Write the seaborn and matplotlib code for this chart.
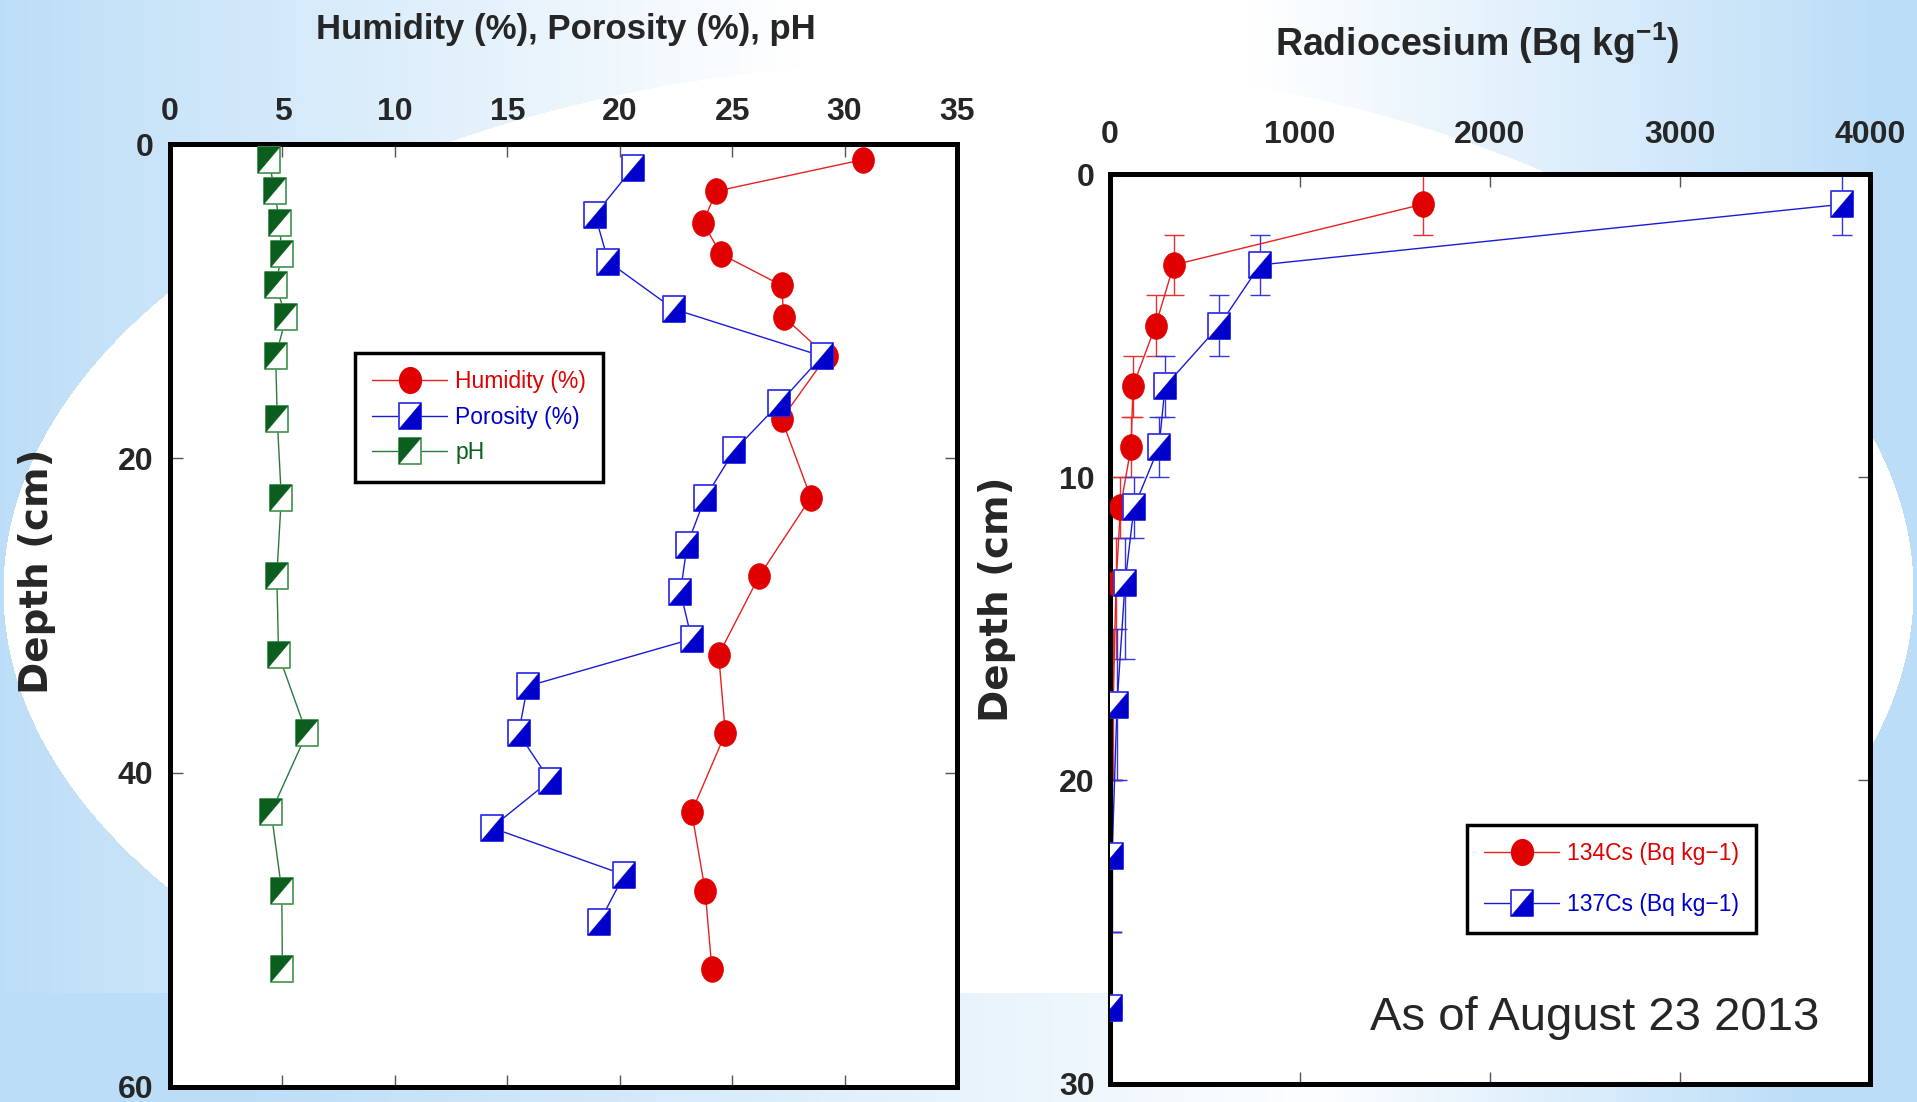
import numpy as np
import matplotlib
matplotlib.use("Agg")
import matplotlib.pyplot as plt
import seaborn as sns
from matplotlib.lines import Line2D
from matplotlib.legend_handler import HandlerTuple
from matplotlib.markers import MarkerStyle
from matplotlib.path import Path
from matplotlib import font_manager

# ---------------- data ----------------
depth_layers = [1, 3, 5, 7, 9, 11, 13.5, 17.5, 22.5, 27.5, 32.5, 37.5, 42.5, 47.5, 52.5]
humidity = [30.8, 24.3, 23.7, 24.5, 27.2, 27.3, 29.2, 27.2, 28.5, 26.2, 24.4, 24.7, 23.2, 23.8, 24.1]
ph = [4.4, 4.65, 4.87, 4.97, 4.7, 5.17, 4.7, 4.77, 4.95, 4.75, 4.83, 6.08, 4.5, 4.97, 5.0]
depth_porosity = [1.5, 4.5, 7.5, 10.5, 13.5, 16.5, 19.5, 22.5, 25.5, 28.5, 31.5, 34.5, 37.5, 40.5, 43.5, 46.5, 49.5]
porosity = [20.6, 18.9, 19.5, 22.4, 29.0, 27.1, 25.1, 23.8, 23.0, 22.7, 23.2, 15.9, 15.5, 16.9, 14.3, 20.2, 19.1]

depth_cs = [1, 3, 5, 7, 9, 11, 13.5, 17.5, 22.5, 27.5]
cs134 = [1645, 335, 240, 121, 111, 55, 32, 16, 5, 5]
cs137 = [3850, 790, 575, 290, 258, 126, 79, 37, 11, 5]
depth_err_top = [1, 1, 1, 1, 1, 1, 1.5, 2.5, 2.5, 2.5]
depth_err_bottom = [1, 1, 1, 1, 1, 1, 2.5, 2.5, 2.5, 2.5]

left_xticks = [0, 5, 10, 15, 20, 25, 30, 35]
left_yticks = [0, 20, 40, 60]
right_xticks = [0, 1000, 2000, 3000, 4000]
right_yticks = [0, 10, 20, 30]

left_labels = ['Humidity (%)', 'Porosity (%)', 'pH']
right_labels = ['134Cs (Bq kg\u22121)', '137Cs (Bq kg\u22121)']

# ---------------- style ----------------
sns.set_style("white")
plt.rcParams['font.family'] = ['Liberation Sans', 'DejaVu Sans']
plt.rcParams['mathtext.fontset'] = 'custom'
plt.rcParams['mathtext.rm'] = 'Liberation Sans'
plt.rcParams['mathtext.bf'] = 'Liberation Sans:bold'

avail = {f.name for f in font_manager.fontManager.ttflist}
if 'Liberation Sans Narrow' in avail:
    NARROW = ['Liberation Sans Narrow', 'Liberation Sans', 'DejaVu Sans']
    TICK_FS, LEG_FS = 27, 20
else:
    NARROW = ['Liberation Sans', 'DejaVu Sans']
    TICK_FS, LEG_FS = 23, 16.5

RED = '#E00000'
RED_LINE = '#E82020'
BLUE = '#0000CC'
BLUE_EDGE = '#3535E8'
BLUE_LINE = '#1A1AD8'
GREEN = '#0B5E1E'
GREEN_EDGE = '#4C9A5A'
GREEN_LINE = '#2A7A3A'

W, H = 1917, 1102
fig = plt.figure(figsize=(W / 100, H / 100), dpi=100)

# slide-like background
yy, xx = np.mgrid[0:H, 0:W]
wl = np.clip(1 - xx / 800.0, 0, 1)
wr = np.clip((xx - 1250) / 620.0, 0, 1)
w = np.maximum(wl, wr)
ell = ((xx - 958) / 955.0) ** 2 + ((yy - 590) / 530.0) ** 2 < 1
w = np.where(ell, 0.0, w)
wb = np.maximum(np.clip(1 - (xx - 250) / 1100.0, 0, 1), np.clip((xx - 1300) / 500.0, 0, 1))
w = np.where(yy > 992, wb, w)
blue_bg = np.array([0.74, 0.87, 0.97])
img = 1 - w[..., None] * (1 - blue_bg)
bg = fig.add_axes([0, 0, 1, 1], zorder=-10)
bg.imshow(img, aspect='auto', interpolation='bilinear')
bg.axis('off')

# marker shapes
hw = 0.82
rect = MarkerStyle(Path([(-hw, -1), (hw, -1), (hw, 1), (-hw, 1), (-hw, -1)], closed=True))
tri_lr = MarkerStyle(Path([(-hw, -1), (hw, -1), (hw, 1), (-hw, -1)], closed=True))
tri_ul = MarkerStyle(Path([(-hw, -1), (-hw, 1), (hw, 1), (-hw, -1)], closed=True))
th = np.linspace(0, 2 * np.pi, 48)
ellipse = MarkerStyle(Path(np.column_stack([0.85 * np.cos(th), np.sin(th)]), closed=True))
MS = 18.5


def split_square(ax, x, y, fill, edge, tri, z):
    sns.scatterplot(x=x, y=y, marker=rect, s=MS ** 2, color='white', edgecolor=edge,
                    linewidth=1.3, ax=ax, zorder=z, legend=False)
    sns.scatterplot(x=x, y=y, marker=tri, s=MS ** 2, color=fill, edgecolor=fill,
                    linewidth=0.3, ax=ax, zorder=z + 0.1, legend=False)


def style_axes(ax):
    ax.set_facecolor('white')
    for sp in ax.spines.values():
        sp.set_visible(True)
        sp.set_linewidth(3.6)
        sp.set_color('black')
    ax.tick_params(which='both', direction='in', length=9, width=1.0, color='#555555',
                   top=True, bottom=True, left=True, right=True,
                   labeltop=True, labelbottom=False, labelsize=TICK_FS)
    for lab in ax.get_xticklabels() + ax.get_yticklabels():
        lab.set_fontweight('bold')
        lab.set_family(NARROW)
    ax.set_xlabel('')
    ax.set_ylabel('')


def split_handle(line_color, edge, fill, tri):
    return (Line2D([], [], color=line_color, lw=1, marker=rect, ms=MS, mfc='white', mec=edge, mew=1.3),
            Line2D([], [], ls='none', marker=tri, ms=MS, mfc=fill, mec=fill, mew=0.3))


# ---------------- left panel ----------------
ax1 = fig.add_axes([170 / W, 1 - 1087 / H, (957 - 170) / W, (1087 - 144) / H])
sns.lineplot(x=humidity, y=depth_layers, sort=False, estimator=None, color=RED_LINE, lw=1, ax=ax1, zorder=2)
sns.lineplot(x=porosity, y=depth_porosity, sort=False, estimator=None, color=BLUE_LINE, lw=1, ax=ax1, zorder=2)
sns.lineplot(x=ph, y=depth_layers, sort=False, estimator=None, color=GREEN_LINE, lw=1, ax=ax1, zorder=2)
sns.scatterplot(x=humidity, y=depth_layers, marker=ellipse, s=MS ** 2, color=RED, edgecolor=RED,
                linewidth=0.5, ax=ax1, zorder=3, legend=False)
split_square(ax1, porosity, depth_porosity, BLUE, BLUE_EDGE, tri_lr, 4)
split_square(ax1, ph, depth_layers, GREEN, GREEN_EDGE, tri_ul, 4)
ax1.set_xlim(0, 35)
ax1.set_ylim(60, 0)
ax1.set_xticks(left_xticks)
ax1.set_yticks(left_yticks)
style_axes(ax1)
ax1.tick_params(axis='x', pad=12)
ax1.tick_params(axis='y', pad=12)

h_hum = Line2D([], [], color=RED_LINE, lw=1, marker=ellipse, ms=MS, mfc=RED, mec=RED)
h_por = split_handle(BLUE_LINE, BLUE_EDGE, BLUE, tri_lr)
h_ph = split_handle(GREEN_LINE, GREEN_EDGE, GREEN, tri_ul)
leg1 = ax1.legend([h_hum, h_por, h_ph], left_labels,
                  handler_map={tuple: HandlerTuple(ndivide=1)},
                  loc='upper left', bbox_to_anchor=(355 / W, 1 - 353 / H), bbox_transform=fig.transFigure,
                  borderaxespad=0, prop={'family': NARROW, 'size': LEG_FS},
                  handlelength=54 / LEG_FS, handletextpad=0.35, labelspacing=0.55,
                  borderpad=0.75, fancybox=False, framealpha=1, edgecolor='black', numpoints=1)
leg1.get_frame().set_linewidth(2.5)
for txt, c in zip(leg1.get_texts(), [RED, BLUE, GREEN]):
    txt.set_color(c)

# ---------------- right panel ----------------
ax2 = fig.add_axes([1110 / W, 1 - 1083.5 / H, (1870 - 1110) / W, (1083.5 - 174) / H])
ax2.errorbar(cs134, depth_cs, yerr=[depth_err_top, depth_err_bottom], fmt='none', ecolor='#E83030',
             elinewidth=1, capsize=7, capthick=1, zorder=2)
ax2.errorbar(cs137, depth_cs, yerr=[depth_err_top, depth_err_bottom], fmt='none', ecolor='#3535E0',
             elinewidth=1, capsize=7, capthick=1, zorder=2)
sns.lineplot(x=cs134, y=depth_cs, sort=False, estimator=None, color=RED_LINE, lw=1, ax=ax2, zorder=2)
sns.lineplot(x=cs137, y=depth_cs, sort=False, estimator=None, color=BLUE_LINE, lw=1, ax=ax2, zorder=2)
sns.scatterplot(x=cs134, y=depth_cs, marker=ellipse, s=MS ** 2, color=RED, edgecolor=RED,
                linewidth=0.5, ax=ax2, zorder=3, legend=False)
split_square(ax2, cs137, depth_cs, BLUE, BLUE_EDGE, tri_lr, 4)
ax2.set_xlim(0, 4000)
ax2.set_ylim(30, 0)
ax2.set_xticks(right_xticks)
ax2.set_yticks(right_yticks)
style_axes(ax2)
ax2.tick_params(axis='x', pad=17)
ax2.tick_params(axis='y', pad=11)

h134 = Line2D([], [], color=RED_LINE, lw=1, marker=ellipse, ms=MS, mfc=RED, mec=RED)
h137 = split_handle(BLUE_LINE, BLUE_EDGE, BLUE, tri_lr)
leg2 = ax2.legend([h134, h137], right_labels,
                  handler_map={tuple: HandlerTuple(ndivide=1)},
                  loc='upper left', bbox_to_anchor=(1467 / W, 1 - 825 / H), bbox_transform=fig.transFigure,
                  borderaxespad=0, prop={'family': NARROW, 'size': LEG_FS},
                  handlelength=54 / LEG_FS, handletextpad=0.35, labelspacing=1.2,
                  borderpad=0.75, fancybox=False, framealpha=1, edgecolor='black', numpoints=1)
leg2.get_frame().set_linewidth(2.5)
for txt, c in zip(leg2.get_texts(), [RED, BLUE]):
    txt.set_color(c)

# ---------------- texts ----------------
fig.text(566 / W, 1 - 39 / H, 'Humidity (%), Porosity (%), pH', ha='center', va='baseline',
         fontsize=25, fontweight='bold')
fig.text(1477 / W, 1 - 43 / H, r'Radiocesium (Bq kg$^{\mathbf{-1}}$)', ha='center', va='center',
         fontsize=27, fontweight='bold')
fig.text(37.5 / W, 1 - 571 / H, 'Depth (cm)', rotation=90, ha='center', va='center',
         fontsize=28, fontweight='bold', family=['DejaVu Sans'])
fig.text(997 / W, 1 - 599 / H, 'Depth (cm)', rotation=90, ha='center', va='center',
         fontsize=28, fontweight='bold', family=['DejaVu Sans'])
fig.text(1819 / W, 1 - 1018 / H, 'As of August 23 2013', ha='right', va='center', fontsize=34)

fig.savefig('out.png', dpi=100)
